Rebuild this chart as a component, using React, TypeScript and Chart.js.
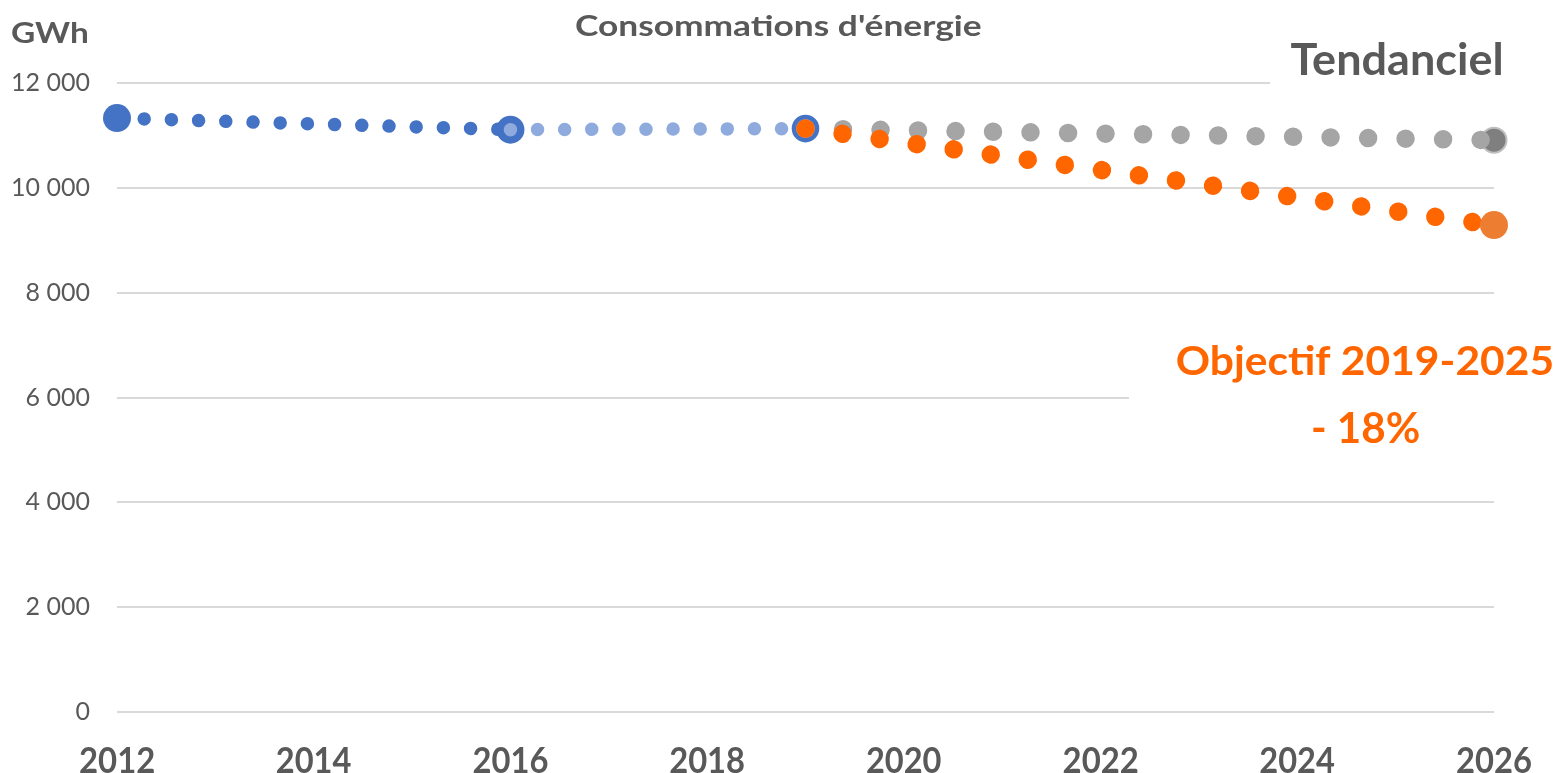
import React, { useEffect, useRef } from 'react';
import { Chart, registerables } from 'chart.js';

Chart.register(...registerables);

// ---- Data ----
const xTickYears = [2012, 2014, 2016, 2018, 2020, 2022, 2024, 2026];
const yTickValues = [0, 2000, 4000, 6000, 8000, 10000, 12000];

const historiqueYears = [2012, 2016];
const historiqueValues = [11330, 11110];

const recentYears = [2016, 2019];
const recentValues = [11110, 11130];

const projectionYears = [2019, 2026];
const tendancielValues = [11130, 10910];
const objectifValues = [11130, 9290];

const TITLE = "Consommations d'énergie";
const UNIT = 'GWh';
const LABEL_TREND = 'Tendanciel';
const LABEL_GOAL_1 = 'Objectif 2019-2025';
const LABEL_GOAL_2 = '- 18%';

// ---- Styles ----
const DARK_BLUE = '#4472C4';
const LIGHT_BLUE = '#8FAADC';
const GRAY = '#A5A5A5';
const GRAY_END = '#7F7F7F';
const ORANGE = '#FF6600';
const ORANGE_END = '#ED7D31';
const TEXT = '#595959';
const FAMILY = "Lato, 'Open Sans', sans-serif";

const W = 1557;
const H = 773;

const pts = (xs: number[], ys: number[]) => xs.map((x, i) => ({ x, y: ys[i] }));

function fitText(
  ctx: CanvasRenderingContext2D,
  text: string,
  left: number,
  right: number,
  baseline: number,
  cap: number,
  weight: string,
  family: string,
  color: string
) {
  ctx.save();
  const base = 100;
  ctx.font = `${weight} ${base}px ${family}`;
  const capM = ctx.measureText('H').actualBoundingBoxAscent || 72;
  const m = ctx.measureText(text);
  const size = (base * cap) / capM;
  const k = size / base;
  const inkW = (m.actualBoundingBoxLeft + m.actualBoundingBoxRight) * k;
  const sx = (right - left) / inkW;
  ctx.translate(left, baseline);
  ctx.scale(sx, 1);
  ctx.font = `${weight} ${size}px ${family}`;
  ctx.fillStyle = color;
  ctx.textAlign = 'left';
  ctx.textBaseline = 'alphabetic';
  ctx.fillText(text, m.actualBoundingBoxLeft * k, 0);
  ctx.restore();
}

const annotations = {
  id: 'annotations',
  beforeDatasetsDraw(chart: any) {
    const ctx = chart.ctx as CanvasRenderingContext2D;
    ctx.save();
    ctx.fillStyle = '#ffffff';
    // text boxes (white fill) hiding the grid behind labels
    ctx.fillRect(1270, 30, W - 1270, 72);
    ctx.fillRect(1129, 320, W - 1129, 160);
    ctx.restore();
  },
  afterDraw(chart: any) {
    const ctx = chart.ctx as CanvasRenderingContext2D;
    fitText(ctx, TITLE, 576, 981, 36, 21.5, '700', FAMILY, TEXT);
    fitText(ctx, UNIT, 12, 87, 43, 20.5, '700', FAMILY, TEXT);
    fitText(ctx, LABEL_TREND, 1291, 1501, 75, 31.5, '700', FAMILY, TEXT);
    fitText(ctx, LABEL_GOAL_1, 1177, 1552, 375, 29.5, '700', FAMILY, ORANGE);
    fitText(ctx, LABEL_GOAL_2, 1313, 1419, 443, 31, '700', FAMILY, ORANGE);
    // x-axis tick labels, positioned by the x scale
    const xs = chart.scales.x;
    xs.ticks.forEach((t: any) => {
      const px = xs.getPixelForValue(t.value);
      fitText(ctx, String(t.value), px - 37, px + 37, 773, 27, '700', FAMILY, TEXT);
    });
  },
};

export default function App() {
  const ref = useRef<HTMLCanvasElement | null>(null);

  useEffect(() => {
    if (!ref.current) return;
    const chart = new Chart(ref.current, {
      type: 'line',
      data: {
        datasets: [
          {
            label: 'Objectif',
            data: pts(projectionYears, objectifValues),
            order: 1,
            borderColor: ORANGE,
            borderWidth: 18.5,
            borderDash: [0.01, 37.4],
            borderCapStyle: 'round',
            fill: false,
            tension: 0,
            pointRadius: [0, 14],
            pointBackgroundColor: ORANGE_END,
            pointBorderWidth: 0,
            clip: false,
          } as any,
          {
            label: 'Tendanciel',
            data: pts(projectionYears, tendancielValues),
            order: 2,
            borderColor: GRAY,
            borderWidth: 18.5,
            borderDash: [0.01, 37.5],
            borderCapStyle: 'round',
            fill: false,
            tension: 0,
            pointRadius: 0,
            clip: false,
          } as any,
          {
            label: 'Tendanciel fin',
            data: pts(projectionYears, tendancielValues).slice(-1),
            order: 3,
            showLine: false,
            pointRadius: 12.5,
            pointBackgroundColor: GRAY_END,
            pointBorderColor: '#BFBFBF',
            pointBorderWidth: 2,
            clip: false,
          } as any,
          {
            label: 'Réel récent',
            data: pts(recentYears, recentValues),
            order: 4,
            borderColor: LIGHT_BLUE,
            borderWidth: 13.5,
            borderDash: [0.01, 27.1],
            borderCapStyle: 'round',
            fill: false,
            tension: 0,
            pointRadius: [0, 11.6],
            pointBackgroundColor: LIGHT_BLUE,
            pointBorderColor: DARK_BLUE,
            pointBorderWidth: 4.4,
            clip: false,
          } as any,
          {
            label: 'Historique',
            data: pts(historiqueYears, historiqueValues),
            order: 5,
            borderColor: DARK_BLUE,
            borderWidth: 13.5,
            borderDash: [0.01, 27.2],
            borderCapStyle: 'round',
            fill: false,
            tension: 0,
            pointRadius: 14,
            pointBackgroundColor: DARK_BLUE,
            pointBorderWidth: 0,
            clip: false,
          } as any,
        ],
      },
      options: {
        responsive: false,
        animation: false,
        events: [],
        layout: { padding: { top: 83, right: 63, left: 0, bottom: 0 } },
        plugins: {
          legend: { display: false },
          tooltip: { enabled: false },
          title: { display: false },
        },
        scales: {
          x: {
            type: 'linear',
            min: xTickYears[0],
            max: xTickYears[xTickYears.length - 1],
            afterBuildTicks: (scale: any) => {
              scale.ticks = xTickYears.map((v) => ({ value: v }));
            },
            afterFit: (scale: any) => {
              scale.height = H - 712;
              scale.paddingLeft = 0;
              scale.paddingRight = 0;
            },
            grid: { display: false, drawTicks: false },
            border: { display: false },
            ticks: { display: false, autoSkip: false, maxRotation: 0 },
          },
          y: {
            type: 'linear',
            min: yTickValues[0],
            max: yTickValues[yTickValues.length - 1],
            afterBuildTicks: (scale: any) => {
              scale.ticks = yTickValues.map((v) => ({ value: v }));
            },
            afterFit: (scale: any) => {
              scale.width = 117;
            },
            grid: { color: '#D9D9D9', lineWidth: 2, drawTicks: false },
            border: { display: false },
            ticks: {
              padding: 27,
              color: TEXT,
              font: { family: FAMILY, size: 25 },
              callback: (v: any) =>
                String(v).replace(/\B(?=(\d{3})+(?!\d))/g, ' '),
            },
          },
        },
      } as any,
      plugins: [annotations],
    });
    return () => chart.destroy();
  }, []);

  return (
    <div style={{ position: 'fixed', left: 0, top: 0, width: W, height: H, background: '#fff' }}>
      <canvas ref={ref} width={W} height={H} style={{ width: W, height: H, display: 'block' }} />
    </div>
  );
}
